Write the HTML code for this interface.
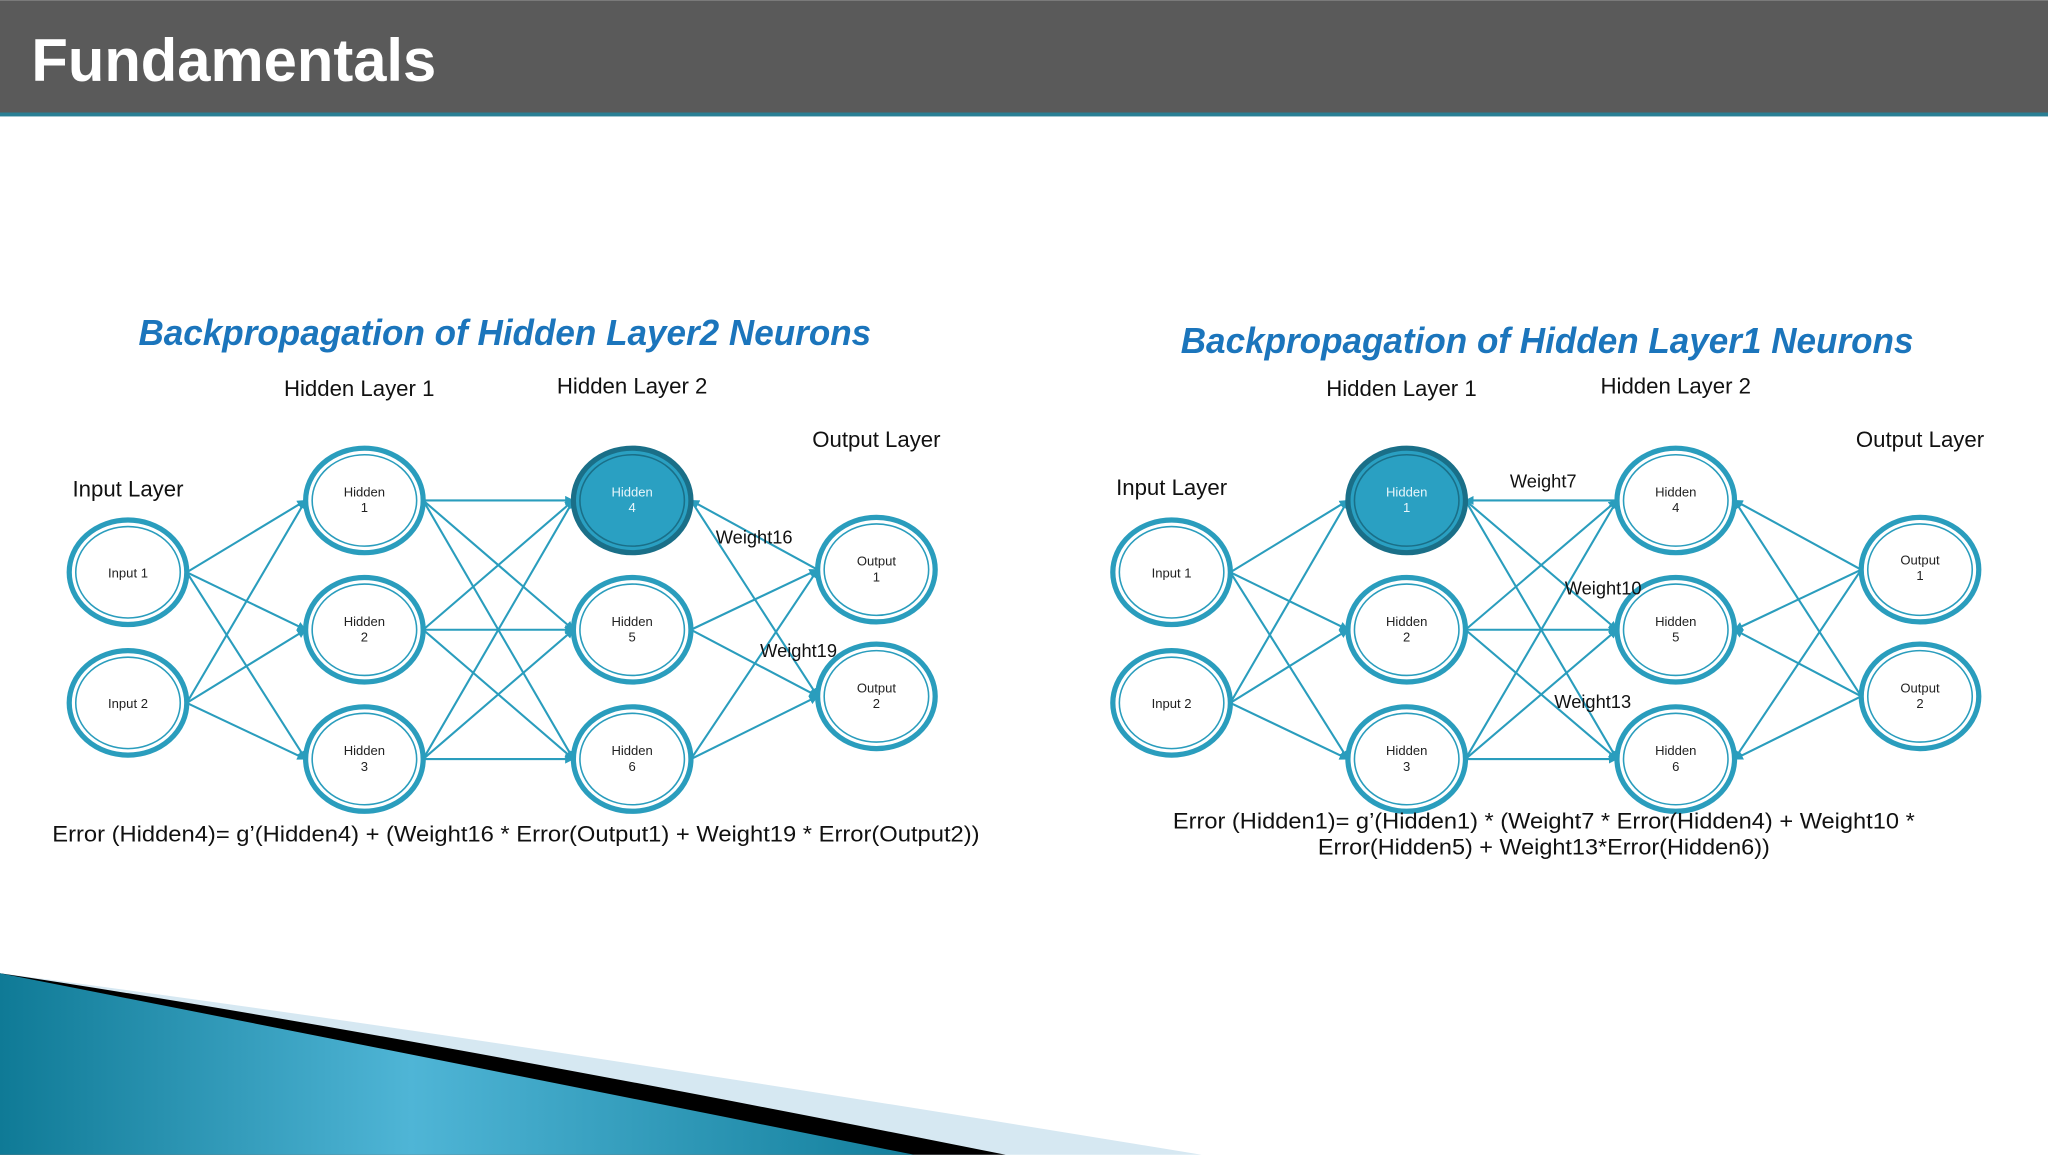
<!DOCTYPE html>
<html><head><meta charset="utf-8"><style>
html,body{margin:0;padding:0;background:#fff;}
svg{display:block;}
</style></head><body>
<svg width="2048" height="1155" viewBox="0 0 1568 884" xmlns="http://www.w3.org/2000/svg" font-family="Liberation Sans, sans-serif">
<defs>
<marker id="a" viewBox="0 0 10 10" refX="9" refY="5" markerWidth="7" markerHeight="7" orient="auto" markerUnits="userSpaceOnUse"><path d="M0,0 L10,5 L0,10 z" fill="#2a9dbd"/></marker>
<linearGradient id="tg" x1="0" y1="0" x2="1" y2="0"><stop offset="0" stop-color="#0f7a96"/><stop offset="0.45" stop-color="#4fb5d6"/><stop offset="1" stop-color="#137f9c"/></linearGradient>
</defs>
<rect x="0" y="0" width="1568" height="88" fill="#5a5a5a"/>
<rect x="0" y="86" width="1568" height="3" fill="#2a7f94"/>
<text x="24" y="62" font-size="46" fill="#fff" font-weight="bold" textLength="310" lengthAdjust="spacingAndGlyphs">Fundamentals</text>

<!-- bottom swoosh -->
<path d="M0,745 Q350,790 920,884 L0,884 z" fill="#d6e8f2"/>
<path d="M0,745 Q300,790 770,884 L0,884 z" fill="#000"/>
<path d="M0,745 Q280,800 700,884 L0,884 z" fill="url(#tg)"/>

<g font-size="28" font-weight="bold" font-style="italic" fill="#1b75bc">
<text x="106" y="264" textLength="561" lengthAdjust="spacingAndGlyphs">Backpropagation of Hidden Layer2 Neurons</text>
<text x="904" y="270" textLength="561" lengthAdjust="spacingAndGlyphs">Backpropagation of Hidden Layer1 Neurons</text>
</g>
<g font-size="17" fill="#111" text-anchor="middle">
<text x="98" y="380">Input Layer</text>
<text x="275" y="303">Hidden Layer 1</text>
<text x="484" y="301">Hidden Layer 2</text>
<text x="671" y="342">Output Layer</text>
<text x="897" y="379">Input Layer</text>
<text x="1073" y="303">Hidden Layer 1</text>
<text x="1283" y="301">Hidden Layer 2</text>
<text x="1470" y="342">Output Layer</text>
</g>

<g stroke="#2a9dbd" stroke-width="1.6" marker-end="url(#a)">
<line x1="143" y1="438" x2="234" y2="383"/><line x1="143" y1="438" x2="234" y2="482"/><line x1="143" y1="438" x2="234" y2="581"/>
<line x1="143" y1="538" x2="234" y2="383"/><line x1="143" y1="538" x2="234" y2="482"/><line x1="143" y1="538" x2="234" y2="581"/>
<line x1="324" y1="383" x2="439" y2="383"/><line x1="324" y1="383" x2="439" y2="482"/><line x1="324" y1="383" x2="439" y2="581"/>
<line x1="324" y1="482" x2="439" y2="383"/><line x1="324" y1="482" x2="439" y2="482"/><line x1="324" y1="482" x2="439" y2="581"/>
<line x1="324" y1="581" x2="439" y2="383"/><line x1="324" y1="581" x2="439" y2="482"/><line x1="324" y1="581" x2="439" y2="581"/>
<line x1="626" y1="436" x2="529" y2="383"/><line x1="529" y1="383" x2="626" y2="533"/>
<line x1="529" y1="482" x2="626" y2="436"/><line x1="529" y1="482" x2="626" y2="533"/>
<line x1="529" y1="581" x2="626" y2="436"/><line x1="529" y1="581" x2="626" y2="533"/>
<line x1="942" y1="438" x2="1032" y2="383"/><line x1="942" y1="438" x2="1032" y2="482"/><line x1="942" y1="438" x2="1032" y2="581"/>
<line x1="942" y1="538" x2="1032" y2="383"/><line x1="942" y1="538" x2="1032" y2="482"/><line x1="942" y1="538" x2="1032" y2="581"/>
<line x1="1238" y1="383" x2="1122" y2="383"/><line x1="1122" y1="383" x2="1238" y2="482"/><line x1="1122" y1="383" x2="1238" y2="581"/>
<line x1="1122" y1="482" x2="1238" y2="383"/><line x1="1122" y1="482" x2="1238" y2="482"/><line x1="1122" y1="482" x2="1238" y2="581"/>
<line x1="1122" y1="581" x2="1238" y2="383"/><line x1="1122" y1="581" x2="1238" y2="482"/><line x1="1122" y1="581" x2="1238" y2="581"/>
<line x1="1425" y1="436" x2="1328" y2="383"/><line x1="1425" y1="436" x2="1328" y2="482"/><line x1="1425" y1="436" x2="1328" y2="581"/>
<line x1="1425" y1="533" x2="1328" y2="383"/><line x1="1425" y1="533" x2="1328" y2="482"/><line x1="1425" y1="533" x2="1328" y2="581"/>
</g>

<g fill="#fff" stroke="#2a9dbd">
<g stroke-width="4">
<ellipse cx="98" cy="438" rx="45" ry="40"/><ellipse cx="98" cy="538" rx="45" ry="40"/>
<ellipse cx="279" cy="383" rx="45" ry="40"/><ellipse cx="279" cy="482" rx="45" ry="40"/><ellipse cx="279" cy="581" rx="45" ry="40"/>
<ellipse cx="484" cy="482" rx="45" ry="40"/><ellipse cx="484" cy="581" rx="45" ry="40"/>
<ellipse cx="671" cy="436" rx="45" ry="40"/><ellipse cx="671" cy="533" rx="45" ry="40"/>
<ellipse cx="897" cy="438" rx="45" ry="40"/><ellipse cx="897" cy="538" rx="45" ry="40"/>
<ellipse cx="1077" cy="482" rx="45" ry="40"/><ellipse cx="1077" cy="581" rx="45" ry="40"/>
<ellipse cx="1283" cy="383" rx="45" ry="40"/><ellipse cx="1283" cy="482" rx="45" ry="40"/><ellipse cx="1283" cy="581" rx="45" ry="40"/>
<ellipse cx="1470" cy="436" rx="45" ry="40"/><ellipse cx="1470" cy="533" rx="45" ry="40"/>
</g>
<g stroke-width="1.2" fill="none">
<ellipse cx="98" cy="438" rx="40" ry="35"/><ellipse cx="98" cy="538" rx="40" ry="35"/>
<ellipse cx="279" cy="383" rx="40" ry="35"/><ellipse cx="279" cy="482" rx="40" ry="35"/><ellipse cx="279" cy="581" rx="40" ry="35"/>
<ellipse cx="484" cy="482" rx="40" ry="35"/><ellipse cx="484" cy="581" rx="40" ry="35"/>
<ellipse cx="671" cy="436" rx="40" ry="35"/><ellipse cx="671" cy="533" rx="40" ry="35"/>
<ellipse cx="897" cy="438" rx="40" ry="35"/><ellipse cx="897" cy="538" rx="40" ry="35"/>
<ellipse cx="1077" cy="482" rx="40" ry="35"/><ellipse cx="1077" cy="581" rx="40" ry="35"/>
<ellipse cx="1283" cy="383" rx="40" ry="35"/><ellipse cx="1283" cy="482" rx="40" ry="35"/><ellipse cx="1283" cy="581" rx="40" ry="35"/>
<ellipse cx="1470" cy="436" rx="40" ry="35"/><ellipse cx="1470" cy="533" rx="40" ry="35"/>
</g>
</g>
<g fill="#2aa0c2" stroke="#1a6f88" stroke-width="4">
<ellipse cx="484" cy="383" rx="45" ry="40"/><ellipse cx="1077" cy="383" rx="45" ry="40"/>
</g>
<g fill="none" stroke="#1a6f88" stroke-width="1.2">
<ellipse cx="484" cy="383" rx="40" ry="35"/><ellipse cx="1077" cy="383" rx="40" ry="35"/>
</g>

<g font-size="10" fill="#222" text-anchor="middle">
<text x="98" y="442">Input 1</text><text x="98" y="542">Input 2</text>
<text x="279" y="380">Hidden</text><text x="279" y="392">1</text>
<text x="279" y="479">Hidden</text><text x="279" y="491">2</text>
<text x="279" y="578">Hidden</text><text x="279" y="590">3</text>
<text x="484" y="479">Hidden</text><text x="484" y="491">5</text>
<text x="484" y="578">Hidden</text><text x="484" y="590">6</text>
<text x="671" y="433">Output</text><text x="671" y="445">1</text>
<text x="671" y="530">Output</text><text x="671" y="542">2</text>
<text x="897" y="442">Input 1</text><text x="897" y="542">Input 2</text>
<text x="1077" y="479">Hidden</text><text x="1077" y="491">2</text>
<text x="1077" y="578">Hidden</text><text x="1077" y="590">3</text>
<text x="1283" y="380">Hidden</text><text x="1283" y="392">4</text>
<text x="1283" y="479">Hidden</text><text x="1283" y="491">5</text>
<text x="1283" y="578">Hidden</text><text x="1283" y="590">6</text>
<text x="1470" y="432">Output</text><text x="1470" y="444">1</text>
<text x="1470" y="530">Output</text><text x="1470" y="542">2</text>
</g>
<g font-size="10" fill="#e8f6fb" text-anchor="middle">
<text x="484" y="380">Hidden</text><text x="484" y="392">4</text>
<text x="1077" y="380">Hidden</text><text x="1077" y="392">1</text>
</g>

<g font-size="14" fill="#111">
<text x="548" y="416">Weight16</text>
<text x="582" y="503">Weight19</text>
<text x="1156" y="373">Weight7</text>
<text x="1198" y="455">Weight10</text>
<text x="1190" y="542">Weight13</text>
</g>
<g font-size="17" fill="#111">
<text x="40" y="644" textLength="710" lengthAdjust="spacingAndGlyphs">Error (Hidden4)= g’(Hidden4) + (Weight16 * Error(Output1) + Weight19 * Error(Output2))</text>
<text x="898" y="634" textLength="568" lengthAdjust="spacingAndGlyphs">Error (Hidden1)= g’(Hidden1) * (Weight7 * Error(Hidden4) + Weight10 *</text>
<text x="1009" y="654" textLength="346" lengthAdjust="spacingAndGlyphs">Error(Hidden5) + Weight13*Error(Hidden6))</text>
</g>
</svg>
</body></html>
